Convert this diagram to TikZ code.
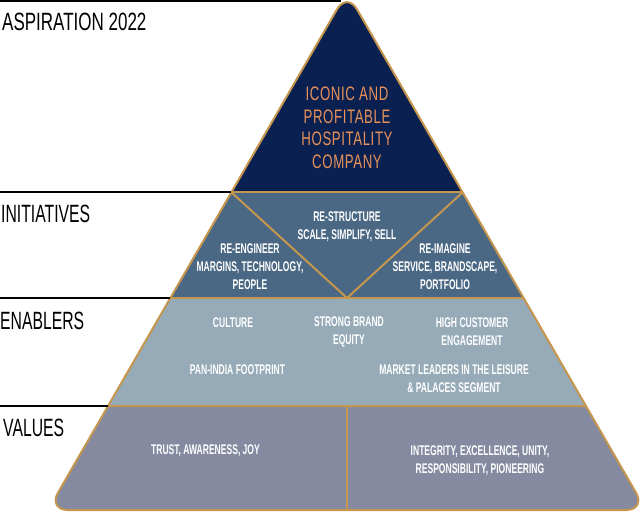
\documentclass[tikz,border=0pt]{standalone}
\usepackage{fontspec}
\setmainfont{Liberation Sans}
\newfontfamily\labfont[FakeStretch=0.63]{Liberation Sans}
\newfontfamily\labwidefont[FakeStretch=0.68]{Liberation Sans}
\newfontfamily\tierfont[FakeStretch=0.61]{Liberation Sans}
\newfontfamily\aspfont[FakeStretch=0.68,LetterSpace=3]{Liberation Sans}
\definecolor{navy}{HTML}{0A2050}
\definecolor{slate}{HTML}{4A6884}
\definecolor{lightslate}{HTML}{97AAB8}
\definecolor{valgrey}{HTML}{858AA0}
\definecolor{gold}{HTML}{C4964E}
\definecolor{aspor}{HTML}{E8925A}
\tikzset{
  tierlabel/.style={anchor=base west,inner sep=0pt,font=\labfont\fontsize{25}{28}\selectfont,text=black},
  leftrule/.style={draw=black,line width=1.2pt},
  goldline/.style={draw=gold,line width=2pt},
  wtext/.style={align=center,inner sep=0pt,text=white,font=\tierfont\bfseries\fontsize{14}{18}\selectfont},
  otext/.style={align=center,inner sep=0pt,text=aspor,font=\aspfont\fontsize{19.5}{22.5}\selectfont},
  pyr/.style={rounded corners=20pt}
}
\begin{document}
\begin{tikzpicture}[x=1pt,y=-1pt]
\useasboundingbox (0,0) rectangle (640,512);
% pyramid geometry
\coordinate (apex) at (347,-8);
\coordinate (bl) at (48,510);
\coordinate (br) at (646,510);
\coordinate (l1) at (231,192);
\coordinate (r1) at (463,192);
\coordinate (l2) at (170,298);
\coordinate (r2) at (524,298);
\coordinate (l3) at (108,406);
\coordinate (r3) at (586,406);
\coordinate (vmid) at (347,298);
\coordinate (vtop) at (347,406);
\coordinate (vbot) at (347,510);
\begin{scope}
\clip[pyr] (apex) -- (br) -- (bl) -- cycle;
\fill[navy] (0,-20) rectangle (650,192);
\fill[slate] (0,192) rectangle (650,298);
\fill[lightslate] (0,298) rectangle (650,406);
\fill[valgrey] (0,406) rectangle (650,520);
\draw[goldline] (l1) -- (r1);
\draw[goldline] (l2) -- (r2);
\draw[goldline] (l3) -- (r3);
\draw[goldline] (l1) -- (vmid) -- (r1);
\draw[goldline] (vtop) -- (vbot);
\end{scope}
\draw[goldline,pyr] (apex) -- (br) -- (bl) -- cycle;
% left rules
\coordinate (t0) at (0,1);
\coordinate (t0e) at (341,1);
\coordinate (t1) at (0,192);
\coordinate (t2) at (0,298);
\coordinate (t3) at (0,406);
\draw[leftrule] (t0) -- (t0e);
\draw[leftrule] (t1) -- (l1);
\draw[leftrule] (t2) -- (l2);
\draw[leftrule] (t3) -- (l3);
% tier labels
\node[tierlabel,font=\labwidefont\fontsize{25}{28}\selectfont] (lasp) at (2,30) {ASPIRATION 2022};
\node[tierlabel] (lini) at (1,222) {INITIATIVES};
\node[tierlabel] (lena) at (0,329) {ENABLERS};
\node[tierlabel] (lval) at (3,436) {VALUES};
% aspiration
\node[otext] (asp) at (347,128) {ICONIC AND\\PROFITABLE\\HOSPITALITY\\COMPANY};
% initiatives
\node[wtext] (restr) at (347,227) {RE-STRUCTURE\\SCALE, SIMPLIFY, SELL};
\node[wtext] (reeng) at (250,267) {RE-ENGINEER\\MARGINS, TECHNOLOGY,\\PEOPLE};
\node[wtext] (reimg) at (445,267) {RE-IMAGINE\\SERVICE, BRANDSCAPE,\\PORTFOLIO};
% enablers
\node[wtext] (cult) at (233,322.5) {CULTURE};
\node[wtext] (brand) at (349,332) {STRONG BRAND\\EQUITY};
\node[wtext] (cust) at (472,332) {HIGH CUSTOMER\\ENGAGEMENT};
\node[wtext] (pan) at (237.5,369.5) {PAN-INDIA FOOTPRINT};
\node[wtext] (mkt) at (454,379) {MARKET LEADERS IN THE LEISURE\\\& PALACES SEGMENT};
% values
\node[wtext] (trust) at (205.5,451) {TRUST, AWARENESS, JOY};
\node[wtext] (integ) at (480,461) {INTEGRITY, EXCELLENCE, UNITY,\\RESPONSIBILITY, PIONEERING};
\end{tikzpicture}
\end{document}
